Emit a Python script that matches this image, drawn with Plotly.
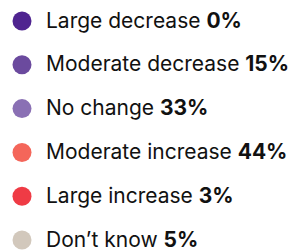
import plotly.graph_objects as go

categories = ["Large decrease", "Moderate decrease", "No change",
              "Moderate increase", "Large increase", "Don\u2019t know"]
values = [0, 15, 33, 44, 3, 5]
colors = ["#4F2490", "#6B4A9E", "#8A70B4", "#F4665A", "#EF3B45", "#D2C8BC"]

rows = list(range(len(categories)))

fig = go.Figure()
fig.add_trace(go.Scatter(
    x=[14] * len(categories), y=rows, mode="markers",
    marker=dict(size=19, color=colors, line=dict(width=0)),
    hoverinfo="skip", showlegend=False,
))
for r, c, v in zip(rows, categories, values):
    fig.add_annotation(
        x=37, y=r, xref="x", yref="y", xanchor="left", yanchor="middle",
        text=f"{c} <b>{v}%</b>", showarrow=False, borderpad=0, yshift=1,
        font=dict(family="Inter, sans-serif", size=21, color="#111111"),
    )

fig.update_layout(
    width=288, height=243, margin=dict(l=0, r=0, t=0, b=0),
    paper_bgcolor="white", plot_bgcolor="white",
    xaxis=dict(range=[0, 288], visible=False, fixedrange=True),
    yaxis=dict(range=[5.251, -0.297], visible=False, fixedrange=True),
)
fig.write_html("out.html")
